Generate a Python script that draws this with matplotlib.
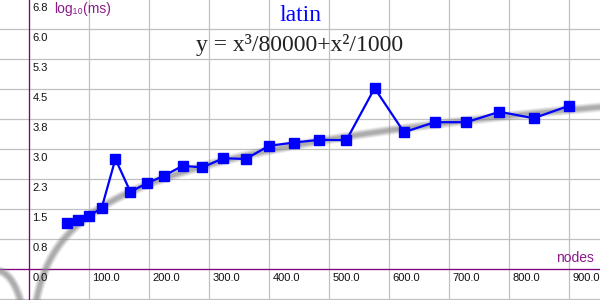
import matplotlib
matplotlib.use("Agg")
import matplotlib.pyplot as plt
import numpy as np

# measured points: nodes vs log10(ms)
nodes = [64, 81, 100, 121, 144, 169, 196, 225, 256, 289, 324, 361, 400,
         441, 484, 529, 576, 625, 676, 729, 784, 841, 900]
log_ms = [1.14, 1.22, 1.33, 1.52, 2.75, 1.93, 2.14, 2.33, 2.58, 2.54, 2.77,
          2.75, 3.08, 3.16, 3.23, 3.22, 4.52, 3.42, 3.67, 3.67, 3.93, 3.77, 4.08]

x_ticks = [0, 100, 200, 300, 400, 500, 600, 700, 800, 900]
x_labels = ["0.0", "100.0", "200.0", "300.0", "400.0", "500.0", "600.0",
            "700.0", "800.0", "900.0"]
y_ticks = [0.75, 1.5, 2.25, 3.0, 3.75, 4.5, 5.25, 6.0, 6.75]
y_labels = ["0.8", "1.5", "2.3", "3.0", "3.8", "4.5", "5.3", "6.0", "6.8"]

title = "latin"
formula = "y = x³/80000+x²/1000"

purple = "#8b1a8b"
sans = ["Liberation Sans", "DejaVu Sans"]
serif = ["Liberation Serif", "DejaVu Serif"]

fig = plt.figure(figsize=(6, 3), dpi=100)
ax = fig.add_axes([0, 0, 1, 1])
for s in ax.spines.values():
    s.set_visible(False)

ax.set_xticks(range(-100, 1100, 100))
ax.set_yticks(np.arange(-0.75, 7.5, 0.75))
ax.grid(True, color="#c0c0c0", linewidth=0.9)
ax.tick_params(length=0, labelbottom=False, labelleft=False)
ax.set_axisbelow(True)
ax.axhline(0, color="#800080", linewidth=0.9, zorder=1)
ax.axvline(0, color="#800080", linewidth=0.9, zorder=1)

# fitted curve, drawn soft and thick
xs = np.linspace(-48.33, 951.67, 2000)
v = xs**3 / 80000 + xs**2 / 1000
with np.errstate(divide="ignore", invalid="ignore"):
    ys = np.where(v > 0, np.log10(v), np.nan)
for lw, a in [(7, 0.15), (5.5, 0.2), (4, 0.28), (2.5, 0.35)]:
    ax.plot(xs, ys - 0.02, color="#888888", linewidth=lw, alpha=a,
            solid_capstyle="round", zorder=2)

ax.plot(nodes, log_ms, color="#0000ff", linewidth=1.6, marker="s",
        markersize=7, zorder=3)

for x, lab in zip(x_ticks, x_labels):
    ax.annotate(lab, (x, 0), xytext=(2.5, -3), textcoords="offset points",
                ha="left", va="top", fontsize=8, family=sans,
                color="#111111", annotation_clip=False)
for y, lab in zip(y_ticks, y_labels):
    ax.annotate(lab, (0, y), xytext=(2.5, -3), textcoords="offset points",
                ha="left", va="top", fontsize=8, family=sans,
                color="#111111", annotation_clip=False)

ax.text(0.09, 0.995, "log₁₀(ms)", transform=ax.transAxes, ha="left",
        va="top", fontsize=10, family=sans, color=purple)
ax.text(0.99, 0.118, "nodes", transform=ax.transAxes, ha="right",
        va="bottom", fontsize=10, family=sans, color=purple)
ax.text(0.5, 0.947, title, transform=ax.transAxes, ha="center", va="center",
        fontsize=17, family=serif, color="#0000ff")
ax.text(0.5, 0.85, formula, transform=ax.transAxes, ha="center", va="center",
        fontsize=17, family=serif, color="#222222")

# limits last: set_ticks widens the view otherwise
ax.set_xlim(-48.33, 951.67)
ax.set_ylim(-0.775, 6.725)

fig.savefig("out.png", dpi=100)
